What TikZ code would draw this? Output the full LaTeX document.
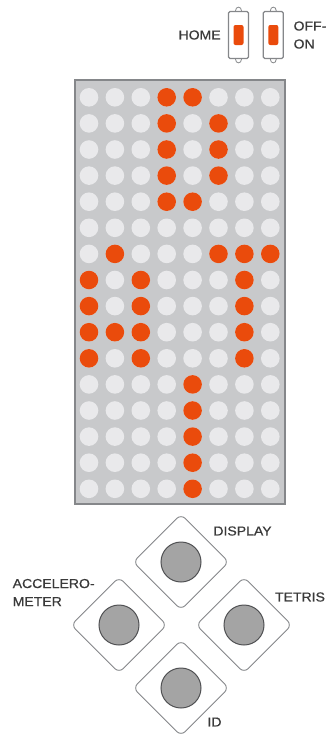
\documentclass[tikz,border=0pt]{standalone}
\usepackage{fontspec}
\setmainfont[FakeStretch=1.08,FakeBold=0.6]{Liberation Sans}
\definecolor{ledred}{HTML}{EA4B0C}
\definecolor{ledoff}{HTML}{E9E9EB}
\definecolor{panel}{HTML}{C8C9CB}
\definecolor{frame}{HTML}{85878A}
\definecolor{knob}{HTML}{A4A4A4}
\definecolor{ink}{HTML}{3A3A3A}
\usetikzlibrary{shapes.geometric}

\begin{document}
\begin{tikzpicture}[x=1pt,y=-1pt,
    txt/.style={font=\fontsize{13}{18}\selectfont,text=ink,inner sep=0pt},
    switchbox/.style={draw=frame,fill=white,line width=1.2pt,rounded corners=1.5pt,
      minimum width=20pt,minimum height=47pt,inner sep=0pt},
    slider/.style={fill=ledred,rounded corners=2pt,minimum width=10pt,
      minimum height=20pt,inner sep=0pt},
    keypad/.style={diamond,draw=frame,fill=white,line width=.9pt,rounded corners=6pt,
      minimum width=96pt,minimum height=96pt,inner sep=0pt},
    knobcirc/.style={circle,draw=frame!60!black,fill=knob,line width=1pt,
      minimum size=40pt,inner sep=0pt}]
  \useasboundingbox (0,0) rectangle (326,734);

  % switches
  \node[switchbox] (home) at (238.5,35) {};
  \node[slider] (homeknob) at (home) {};
  \node[switchbox] (onoff) at (273.3,35) {};
  \node[slider] (onoffknob) at (onoff) {};
  \foreach \s in {home,onoff} {
    \draw[frame,line width=.8pt] ([xshift=-3pt]\s.north) .. controls +(0,-5) and +(0,-5) .. ([xshift=3pt]\s.north);
    \draw[frame,line width=.8pt] ([xshift=-3pt]\s.south) .. controls +(0,5) and +(0,5) .. ([xshift=3pt]\s.south);
  }
  \node[txt,anchor=east] (homelbl) at ([xshift=-7pt]home.west) {HOME};
  \node[txt,anchor=west,align=left] (onofflbl) at ([xshift=9.5pt]onoff.east) {OFF-\\ON};

  % led matrix
  \draw[frame,fill=panel,line width=1.2pt] (75,80) rectangle (285,504);
  \foreach \r in {0,...,15}
    \foreach \c in {0,...,7}
      \fill[ledoff] ({89+25.9*\c},{97.3+26.1*\r}) circle (9.3pt);
  \foreach \c/\r in {3/0,4/0,3/1,5/1,3/2,5/2,3/3,5/3,3/4,4/4,
                     1/6,5/6,6/6,7/6,0/7,2/7,6/7,0/8,2/8,6/8,
                     0/9,1/9,2/9,6/9,0/10,2/10,6/10,
                     4/11,4/12,4/13,4/14,4/15}
    \fill[ledred] ({89+25.9*\c},{97.3+26.1*\r}) circle (9.3pt);

  % keypad
  \node[keypad] (display) at (181,562) {};
  \node[keypad] (accel) at (119,625) {};
  \node[keypad] (tetris) at (244,625) {};
  \node[keypad] (id) at (181,688) {};
  \foreach \k in {display,accel,tetris,id}
    \node[knobcirc] (\k knob) at (\k) {};

  \node[txt] (displaylbl) at (242.5,531) {DISPLAY};
  \node[txt,anchor=west,align=left] (accellbl) at (12.5,592.5) {ACCELERO-\\METER};
  \node[txt] (tetrislbl) at (300,597) {TETRIS};
  \node[txt] (idlbl) at (214.5,722) {ID};
\end{tikzpicture}
\end{document}
